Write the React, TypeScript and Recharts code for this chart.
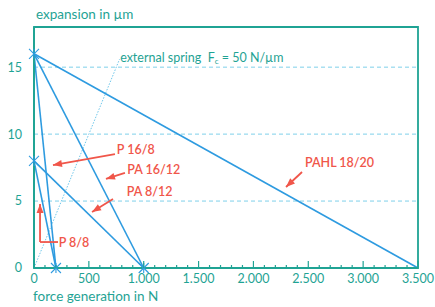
import React from 'react';
import {
  ComposedChart,
  Line,
  XAxis,
  YAxis,
  CartesianGrid,
  ReferenceLine,
  ReferenceArea,
} from 'recharts';

// actuator characteristics: (force N, expansion µm)
const pahl1820 = [{ x: 0, y: 16 }, { x: 3500, y: 0 }];
const pa1612 = [{ x: 0, y: 16 }, { x: 1000, y: 0 }];
const p168 = [{ x: 0, y: 16 }, { x: 200, y: 0 }];
const pa812 = [{ x: 0, y: 8 }, { x: 1000, y: 0 }];
const p88 = [{ x: 0, y: 8 }, { x: 200, y: 0 }];
const spring = [{ x: 0, y: 0 }, { x: 780, y: 15.6 }];
const endPoints = [{ x: 0, y: 16 }, { x: 0, y: 8 }, { x: 200, y: 0 }, { x: 1000, y: 0 }];

const xTicks = Array.from({ length: 36 }, (_, i) => i * 100);
const yTicks = [0, 5, 10, 15];

// arrow annotations, data coordinates: from -> tip, text anchor
const arrows = [
  { label: 'P 16/8', pts: [[738, 8.51], [173, 7.69]], tx: 755, ty: 8.85 },
  { label: 'PA 16/12', pts: [[829, 7.1], [656, 6.65]], tx: 850, ty: 7.35 },
  { label: 'PA 8/12', pts: [[720, 5.15], [529, 4.18]], tx: 845, ty: 5.7 },
  { label: 'P 8/8', pts: [[219, 1.94], [55, 1.94], [55, 4.78]], tx: 225, ty: 1.94 },
  { label: 'PAHL 18/20', pts: [[2443, 7.17], [2297, 6.05]], tx: 2470, ty: 7.9 },
];

const TEAL = '#1fa394';
const BLUE = '#2e9be0';
const RED = '#f0564a';
const FONT = 'Lato, "Noto Sans", sans-serif';

const fmt = (v: number) => v.toLocaleString('de-DE');

const XTick = (props: any) => {
  const { x, y, payload } = props;
  const major = payload.value % 500 === 0;
  return (
    <g>
      <line x1={x} x2={x} y1={y} y2={y - (major ? 7 : 3)} stroke={TEAL} strokeWidth={1.2} />
      {major && (
        <text x={x} y={y + 15} textAnchor="middle" fill={TEAL} fontSize={12.5} fontFamily={FONT}>
          {fmt(payload.value)}
        </text>
      )}
    </g>
  );
};

const Star = (props: any) => {
  const { cx, cy, index } = props;
  const r = 5;
  return (
    <g key={index} stroke={BLUE} strokeWidth={1.1}>
      <line x1={cx - r} y1={cy - r} x2={cx + r} y2={cy + r} />
      <line x1={cx - r} y1={cy + r} x2={cx + r} y2={cy - r} />
      <line x1={cx} y1={cy - r} x2={cx} y2={cy + r} />
    </g>
  );
};

const ArrowShape = (props: any) => {
  const { x1, y1, x2, y2, head } = props;
  const el: React.ReactNode[] = [
    <line key="l" x1={x1} y1={y1} x2={x2} y2={y2} stroke={RED} strokeWidth={1.8} />,
  ];
  if (head) {
    const a = Math.atan2(y2 - y1, x2 - x1);
    const L = 9;
    const w = 3.5;
    const bx = x2 - L * Math.cos(a);
    const by = y2 - L * Math.sin(a);
    const p = `${x2},${y2} ${bx - w * Math.sin(a)},${by + w * Math.cos(a)} ${bx + w * Math.sin(a)},${by - w * Math.cos(a)}`;
    el.push(<polygon key="h" points={p} fill={RED} />);
  }
  return <g>{el}</g>;
};

const App: React.FC = () => {
  return (
    <div style={{ position: 'absolute', left: 0, top: 0, width: 435, height: 307, background: '#fff' }}>
      <div
        style={{
          position: 'absolute',
          left: 36,
          top: 6,
          color: TEAL,
          fontFamily: FONT,
          fontSize: 13.5,
        }}
      >
        expansion in µm
      </div>
      <div
        style={{
          position: 'absolute',
          left: 33,
          top: 288,
          color: TEAL,
          fontFamily: FONT,
          fontSize: 13.5,
        }}
      >
        force generation in N
      </div>
      <ComposedChart
        width={435}
        height={307}
        margin={{ top: 27, right: 17, left: 4, bottom: 14 }}
      >
        <CartesianGrid vertical={false} stroke="#7fd0ea" strokeDasharray="4 3" />
        <XAxis
          dataKey="x"
          type="number"
          domain={[0, 3500]}
          ticks={xTicks}
          interval={0}
          tickSize={0}
          tickMargin={0}
          tickLine={false}
          axisLine={{ stroke: TEAL, strokeWidth: 1.8 }}
          tick={<XTick />}
          height={25}
        />
        <YAxis
          dataKey="y"
          type="number"
          domain={[0, 18]}
          ticks={yTicks}
          width={30}
          tickLine={false}
          tickMargin={6}
          axisLine={{ stroke: TEAL, strokeWidth: 1.8 }}
          tick={{ fill: TEAL, fontSize: 12.5, fontFamily: FONT }}
        />
        <ReferenceArea x1={0} x2={3500} y1={0} y2={18} fill="none" stroke={TEAL} strokeWidth={1.8} ifOverflow="visible" />

        <Line data={spring} dataKey="y" stroke="#5cc0e8" strokeWidth={0.9} strokeDasharray="1.5 1.5" dot={false} isAnimationActive={false} />
        <Line data={pahl1820} dataKey="y" stroke={BLUE} strokeWidth={1.6} dot={false} isAnimationActive={false} />
        <Line data={pa1612} dataKey="y" stroke={BLUE} strokeWidth={1.6} dot={false} isAnimationActive={false} />
        <Line data={p168} dataKey="y" stroke={BLUE} strokeWidth={1.6} dot={false} isAnimationActive={false} />
        <Line data={pa812} dataKey="y" stroke={BLUE} strokeWidth={1.6} dot={false} isAnimationActive={false} />
        <Line data={p88} dataKey="y" stroke={BLUE} strokeWidth={1.6} dot={false} isAnimationActive={false} />
        <Line data={endPoints} dataKey="y" stroke="none" dot={(p: any) => <Star {...p} />} isAnimationActive={false} />

        {arrows.map((a) =>
          a.pts.slice(1).map((p, i) => (
            <ReferenceLine
              key={`${a.label}-${i}`}
              segment={[
                { x: a.pts[i][0], y: a.pts[i][1] },
                { x: p[0], y: p[1] },
              ]}
              ifOverflow="visible"
              shape={<ArrowShape head={i === a.pts.length - 2} />}
            />
          ))
        )}
        {arrows.map((a) => (
          <ReferenceLine
            key={`t-${a.label}`}
            segment={[
              { x: a.tx, y: a.ty },
              { x: a.tx, y: a.ty },
            ]}
            ifOverflow="visible"
            shape={(p: any) => (
              <text x={p.x1} y={p.y1 + 4.5} fill={RED} fontSize={12.5} fontWeight={600} fontFamily={FONT}>
                {a.label}
              </text>
            )}
          />
        ))}
        <ReferenceLine
          segment={[
            { x: 785, y: 15.75 },
            { x: 785, y: 15.75 },
          ]}
          ifOverflow="visible"
          shape={(p: any) => (
            <text x={p.x1} y={p.y1 + 4.5} fill={TEAL} fontSize={12.5} fontFamily={FONT}>
              external spring{'\u00a0\u00a0'}F
              <tspan fontSize={8} dy={2}>c</tspan>
              <tspan dy={-2}> = 50 N/µm</tspan>
            </text>
          )}
        />
      </ComposedChart>
    </div>
  );
};

export default App;
